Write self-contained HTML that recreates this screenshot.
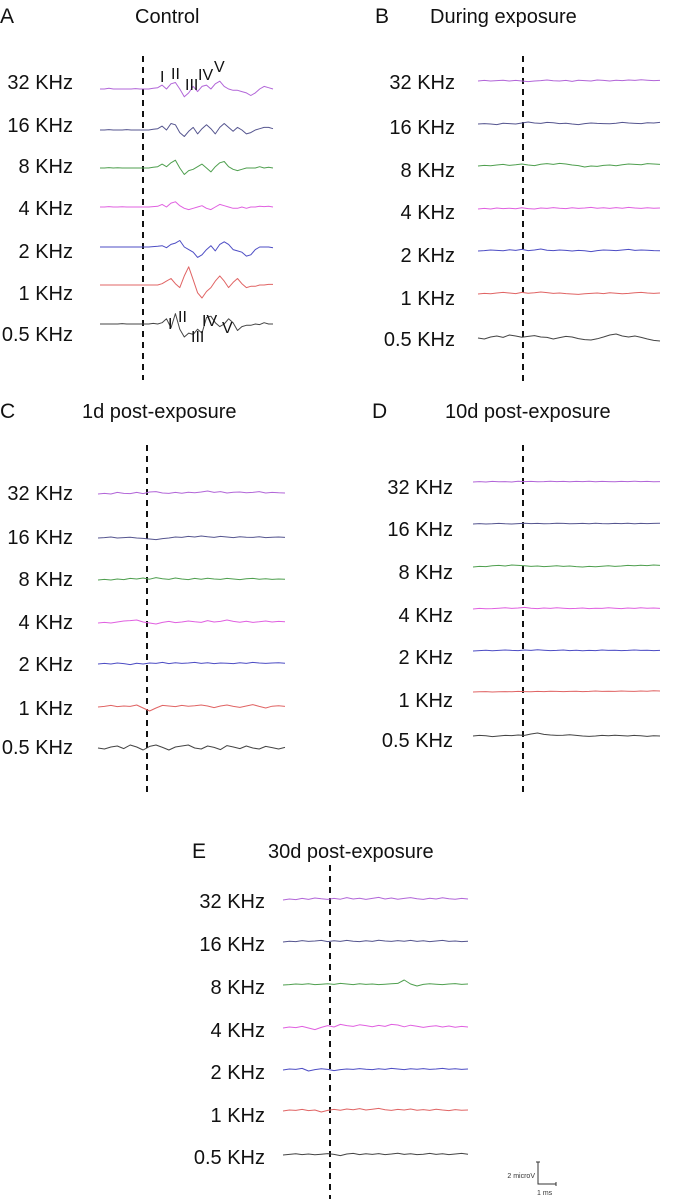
<!DOCTYPE html>
<html><head><meta charset="utf-8"><style>
body{margin:0;background:#fff;}
svg{display:block;font-family:"Liberation Sans",sans-serif;}
</style></head><body>
<svg id="fig" width="674" height="1199"></svg>
<script>
const freqLabels=["32 KHz","16 KHz","8 KHz","4 KHz","2 KHz","1 KHz","0.5 KHz"];
const colors=["#b266d8","#55558f","#4f9f4f","#e060e0","#4d4dc4","#e06464","#444444"];
const panelLetters=["A","B","C","D","E"];
const panelTitles=["Control","During exposure","1d post-exposure","10d post-exposure","30d post-exposure"];
const ctrl32=[0,0,0.5,0,0,0,0,0,0.3,0,0,0,0.5,1,3,0,4,5,0,-6,-3,2,-2,2,3,0,4,6,2,0,-1,-1,-2,-3,-5,-3,0,2,1,0];
const ctrl16=[0,0,0.3,0,0,0,0.3,0,0,0,0,0,0.5,1,3,0,5,4,-2,-5,-1,2,-3,1,4,1,-3,2,5,2,-1,2,0,-3,-2,0,1,2,2,1];
const ctrl8=[0,0,0.3,0,0.2,0,0,0,0,0,0,0,0.5,1,3,1,4,6,0,-5,-2,-1,1,3,0,-3,1,4,5,1,-1,-2,-1,0,0,0,1,0,0.5,0];
const ctrl4=[0,0,0.3,0,0,0.2,0,0,0,0,0,0,0.3,0.5,2,0,3,4,1,-1,-2,-1,0,1,-1,-2,0,2,1,0,-1,-1,0,-1,0,0,0.5,0.3,0.5,0];
const ctrl2=[0,0,0,0,0,0,0,0,0,0,0,0,0.3,0.5,1,-0.5,2,3,5,0,-2,-4,-8,-6,-2,1,-3,2,4,2,-2,-3,-4,-7,-6,-2,0,0,0,-0.5];
const ctrl1=[0,0,0,0,0,0,0,0,0,0,0,0,0,0,1,3,5,1,-2,7,14,4,-6,-10,-5,-2,3,7,3,-2,2,5,1,-2,-1,-1,0,0,0.5,0.5];
const ctrl05=[0,0,0,0,0,0.3,0,0,0,0,0,0,0.5,0,1,4,-3,8,-4,-10,-7,-8,-4,-7,5,6,1,-2,0,4,1,-5,-2,-1,-1,0,-0.5,1,0,0];
const duringSets=[
[0,0.3,0,0.2,0.4,0,0.3,0,-0.3,0,0.2,0.5,0.1,0,0.3,-0.2,0.4,0.2,0,0.5,0.3,0,0.4,0.2,0.5,0.3,0.6,0.4,0.2,0.3],
[0,0.2,0,-0.3,0.4,0.2,0,0.5,1,0.5,0.3,0.8,0.6,0.2,0.4,0,-0.3,0.2,0.5,0.3,0.2,0.1,0.4,0.8,0.5,0.3,0.2,0.6,0.5,0.8],
[0,0.3,0.1,0.5,0.8,0.3,0.6,1,0.5,0.2,0.9,1.2,0.8,1.3,1,0.5,0.2,-0.5,0,-0.2,0.3,0.5,0.1,0.6,1,0.8,0.6,1.2,1,0.8],
[0,0.3,0,0.5,0.2,0.4,0.1,0.6,0.2,0,0.5,0.3,0.7,0.4,0.2,0.6,0.3,0.5,0.8,0.4,0.6,0.3,0.7,0.4,0.8,0.5,0.3,0.6,0.4,0.5],
[0,0.2,0.5,0.3,0.1,0.6,0.3,0.8,0.2,0.5,1,0.4,0.2,0.5,0.3,0,0.3,0.1,-0.3,0.2,0.5,0.4,0.2,0.5,0.8,0.3,0.5,0.4,0.2,0.1],
[0,0.3,0.1,0.5,0.8,0.5,0.2,0.8,0.4,0.6,1,0.7,0.3,0.5,0.2,0,-0.2,0.1,0.3,0.5,0.2,0.6,0.4,0.1,0.3,0.6,0.8,0.5,0.3,0.5],
[0,-0.5,0.5,1,0.3,1.5,1,0.4,0.8,1.2,0.5,0.3,-0.5,0.2,0.8,0.5,-0.3,-0.8,-1,-0.4,0.5,1.5,2,1,0.5,1,0.3,-0.5,-1.2,-1.5]];
const post1Sets=[
[0,0.3,0,0.8,0.3,0.2,0.8,0.2,1,1.2,0.5,0.3,0.8,0.4,0.9,0.6,1,1.5,0.8,1.2,0.5,0.9,1,0.6,0.8,1.2,0.5,0.8,0.6,0.5],
[0,0.2,0.5,0,0.2,0.4,0,-0.2,-0.5,-0.8,-0.3,0,0.5,0.3,0.8,0.5,1,0.6,0.3,0.8,0.5,0.2,0.6,0.4,0.3,0.6,0.2,0.4,0.5,0.3],
[0,0.3,0,0.5,0.2,0.8,0.5,1,0.4,1.2,0.6,0.3,1,0.5,0.2,0.8,0.4,0.9,0.5,0.3,0.8,0.5,0.2,0.6,0.8,0.4,0.6,0.3,0.5,0.4],
[0,0.3,0,0.5,1,1.2,1.5,0.5,0,-0.5,0.3,0.8,0.2,0.5,1,0.6,0.3,1.2,0.5,0.8,1.5,0.8,0.4,0.9,0.3,0.6,1,0.5,0.8,0.6],
[0,0.3,0,0.5,0.2,-0.3,0.4,0,0.5,0.3,0.8,0.2,0.6,0.3,0.5,0.8,0.3,0.6,0.2,0.5,0.4,0.2,0.6,0.3,0.8,0.5,0.3,0.5,0.6,0.4],
[0,0.3,0.8,0.2,0.5,0.3,1,-0.5,-2,-0.5,0.8,0.5,0.2,0.8,0.4,0.6,1,0.5,-0.3,0.5,1,0.3,-0.2,0.5,1.2,0.3,-0.5,0.4,0.6,0.3],
[0,-0.5,0.5,1,-0.3,1.5,0.5,-1,0.8,1.5,0.3,-1,0.5,1,1.5,0,-0.5,1,0.3,-0.8,1.2,0.5,-0.3,1,0,-0.5,0.8,0.2,-0.5,0.3]];
const post10Sets=[
[0,0.2,0,0.3,0.1,0.2,0,0.4,0.2,0.3,0.1,0.2,0.4,0.2,0.3,0.1,0.3,0.2,0.4,0.1,0.3,0.2,0.1,0.3,0.2,0.4,0.2,0.3,0.1,0.2],
[0,0.2,0,0.1,0.3,0.1,0,0.2,0.4,0.2,0.3,0.1,0.2,0.4,0.3,0.1,0.2,0.3,0.1,0.4,0.2,0.1,0.3,0.2,0.4,0.1,0.3,0.2,0.3,0.4],
[0,0.3,0.2,0.6,0.8,0.5,1,0.8,0.6,0.3,0.5,0.2,0.4,0.6,0.3,0.5,0.2,0,0.3,0.1,0.4,0.6,0.3,0.5,0.8,0.6,0.9,0.7,1,0.8],
[0,0.3,0.1,0.2,0.4,0.6,0.3,0.5,0.8,0.4,0.2,0.5,0.3,0.6,0.4,0.2,0.3,0.5,0.2,0.4,0.3,0.6,0.4,0.2,0.5,0.3,0.6,0.4,0.5,0.3],
[0,0.2,0.4,0.1,0.3,0.5,0.3,0.2,0.5,0.3,0.6,0.4,0.2,0.3,0.5,0.2,0.4,0.1,0.3,0.2,0.5,0.3,0.4,0.2,0.3,0.5,0.3,0.4,0.2,0.3],
[0,0.1,0.2,0,0.1,0.2,0.1,0.3,0.2,0.1,0.3,0.2,0.4,0.3,0.2,0.3,0.4,0.2,0.3,0.5,0.3,0.4,0.3,0.5,0.4,0.3,0.5,0.4,0.6,0.5],
[0,0.3,0.1,-0.3,0,0.3,0.2,0.5,0.3,1,1.5,0.8,0.5,0.3,0.4,0.6,0.3,0,-0.2,0,0.3,0.1,0.4,0.2,0,0.3,0.1,-0.2,0.1,0]];
const post30Sets=[
[0,0.5,0.2,0.8,0.3,1,0.6,0.3,0.8,0.4,1.2,0.5,0.9,0.3,0.8,1.3,0.5,1,0.4,0.8,1.2,0.6,0.3,0.9,0.5,1.1,0.6,0.4,0.8,0.5],
[0,0.4,0.2,0.7,0.3,0.5,0.8,0.2,0.6,0.3,0.8,0.4,0.2,0.6,0.3,0.9,0.5,0.3,0.7,0.4,0.8,0.3,0.6,0.2,0.5,0.8,0.3,0.5,0.2,0.4],
[0,0.2,0.5,0.3,0.6,0.2,0.4,0.6,0.3,0.8,0.5,0.2,0.6,0.3,0.5,0.2,0.4,0.6,0.8,2.5,0.5,-0.5,0.3,0.6,0.4,0.2,0.5,0.7,0.3,0.5],
[0,0.5,0.2,0.8,0,-0.8,0.3,1.2,0.5,1.8,1.2,0.8,1.6,1.2,0.6,1.3,0.8,1.8,1.5,0.6,1.4,0.9,0.3,0.8,1.1,0.5,1,0.4,0.8,0.5],
[0,0.5,0.3,0.8,-0.5,0.2,0.6,0.3,-0.3,0.2,0.5,0.3,0.7,0.4,0.2,0.6,0.3,0.8,0.5,0.2,0.6,0.4,0.7,0.3,0.5,0.8,0.4,0.6,0.3,0.5],
[0,0.5,0.3,0.8,0.2,0.5,-0.5,0.3,0.8,0.4,1,0.6,1.2,0.5,0.9,1.3,0.6,0.3,0.8,0.5,1,0.4,0.7,0.3,0.9,0.5,0.2,0.7,0.4,0.5],
[0,0.3,0.6,0.2,0.5,0.1,0.4,0.7,0.3,-0.3,0.5,0.8,0.2,0.6,0.3,0.7,0.2,0.5,0.9,0.3,0.6,0.2,0.4,0.8,0.3,0.6,0.2,0.5,0.8,0.4]];

const panels=[
 {sets:[ctrl32,ctrl16,ctrl8,ctrl4,ctrl2,ctrl1,ctrl05],lx:0,ly:22,tx:135,x0:100,x1:273,dash:143,dy0:56,dy1:380,labRight:73,labY:[82,125,166,208,251,293,334],trY:[89,130,168,207,247,285,324],scale:1.3},
 {sets:duringSets,lx:375,ly:22,tx:430,x0:478,x1:660,dash:523,dy0:56,dy1:385,labRight:455,labY:[82,127,170,212,255,298,339],trY:[81,124,166,209,251,294,338],scale:2},
 {sets:post1Sets,lx:0,ly:417,tx:82,x0:98,x1:285,dash:147,dy0:445,dy1:795,labRight:73,labY:[493,537,579,622,664,708,747],trY:[494,538,580,623,664,707,748],scale:2},
 {sets:post10Sets,lx:372,ly:417,tx:445,x0:473,x1:660,dash:523,dy0:445,dy1:795,labRight:453,labY:[487,529,572,615,657,700,740],trY:[482,524,567,609,651,692,736],scale:2},
 {sets:post30Sets,lx:192,ly:857,tx:268,x0:283,x1:468,dash:330,dy0:865,dy1:1199,labRight:265,labY:[901,944,987,1030,1072,1115,1157],trY:[900,942,985,1028,1070,1111,1155],scale:2}
];
const NS="http://www.w3.org/2000/svg";
const svg=document.getElementById('fig');
function mk(tag,attrs,parent){const e=document.createElementNS(NS,tag);for(const k in attrs)e.setAttribute(k,attrs[k]);(parent||svg).appendChild(e);return e;}
panels.forEach((p,pi)=>{
 const g=mk('g',{});
 
 
 const L=mk('text',{x:p.lx,y:p.ly+1,'font-size':21,fill:'#111'},g);L.textContent=panelLetters[pi];
 
 
 const T=mk('text',{x:p.tx,y:p.ly+1,'font-size':20,fill:'#111'},g);T.textContent=panelTitles[pi];
 
 
 const d=mk('line',{x1:p.dash,x2:p.dash,y1:p.dy0,y2:p.dy1,stroke:'#111','stroke-width':2,'stroke-dasharray':'6,5'},g);
 
 
 p.sets.forEach((arr,i)=>{
  const lab=mk('text',{x:p.labRight,y:p.labY[i]+7,'font-size':20,fill:'#111','text-anchor':'end'},g);lab.textContent=freqLabels[i];
  
  
  const n=arr.length;
  const xs=k=>p.x0+(p.x1-p.x0)*k/(n-1);
  const ys=v=>p.trY[i]-v*p.scale;
  let dstr='';
  for(let k=0;k<n;k++)dstr+=(k?'L':'M')+xs(k).toFixed(1)+','+ys(arr[k]).toFixed(1);
  const path=mk('path',{d:dstr,fill:'none',stroke:colors[i],'stroke-width':1,'stroke-linejoin':'round'},g);
  
  
 });
});
const waveLabels=[["I",160,82],["II",171,79],["III",185,90],["IV",198,80],["V",214,72],["I",168,329],["II",178,322],["III",191,342],["IV",202,326],["V",222,333]];
waveLabels.forEach(w=>{const t=mk('text',{x:w[1],y:w[2],'font-size':16,fill:'#111'});t.textContent=w[0];
 
 });
const sb=mk('g',{});


mk('path',{d:'M538,1162V1184H556',fill:'none',stroke:'#333','stroke-width':1},sb);
mk('line',{x1:536,x2:540,y1:1162,y2:1162,stroke:'#333'},sb);
mk('line',{x1:556,x2:556,y1:1182,y2:1186,stroke:'#333'},sb);
const s1=mk('text',{x:535,y:1178,'font-size':7,fill:'#333','text-anchor':'end'},sb);s1.textContent='2 microV';
const s2=mk('text',{x:537,y:1195,'font-size':7,fill:'#333'},sb);s2.textContent='1 ms';
</script>
</body></html>
